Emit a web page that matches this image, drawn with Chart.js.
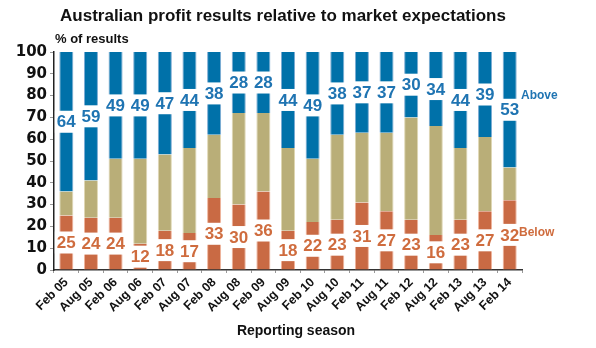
<!DOCTYPE html>
<html>
<head>
<meta charset="utf-8">
<script src="https://cdn.jsdelivr.net/npm/chart.js@4/dist/chart.umd.min.js"></script>
<style>
  html, body { margin: 0; padding: 0; background: #fff; }
  #wrap { width: 596px; height: 348px; position: relative; }
</style>
</head>
<body>
<div id="wrap"><canvas id="chart"></canvas></div>
<script>
// Reporting seasons
const seasons = ['Feb 05','Aug 05','Feb 06','Aug 06','Feb 07','Aug 07','Feb 08','Aug 08','Feb 09','Aug 09',
                 'Feb 10','Aug 10','Feb 11','Aug 11','Feb 12','Aug 12','Feb 13','Aug 13','Feb 14'];
// Share of results (%) below, in line with and above expectations
const below  = [25,24,24,12,18,17,33,30,36,18,22,23,31,27,23,16,23,27,32];
const inLine = [11,17,27,39,35,39,29,42,36,38,29,39,32,36,47,50,33,34,15];
const above  = [64,59,49,49,47,44,38,28,28,44,49,38,37,37,30,34,44,39,53];
// Y axis range
const yMin = 0, yMax = 100, yStep = 10;

const BLUE = '#0071a9', KHAKI = '#b9ae78', ORANGE = '#c96a44';
const BLUE_TXT = '#1f74b2', ORANGE_TXT = '#cf6c3e';
const SANS = '"Liberation Sans", Arial, sans-serif';

// Segment value labels with a white box punched through the bar
const valueLabels = {
  id: 'valueLabels',
  afterDatasetsDraw(chart) {
    const ctx = chart.ctx;
    ctx.save();
    ctx.font = 'bold 17px ' + SANS;
    ctx.textAlign = 'center';
    ctx.textBaseline = 'middle';
    [[0, ORANGE_TXT], [2, BLUE_TXT]].forEach(([di, color]) => {
      const meta = chart.getDatasetMeta(di);
      const data = chart.data.datasets[di].data;
      meta.data.forEach((bar, i) => {
        const p = bar.getProps(['x', 'y', 'base'], true);
        const cy = (p.y + p.base) / 2;
        const txt = String(data[i]);
        const w = ctx.measureText(txt).width;
        ctx.fillStyle = '#fff';
        ctx.fillRect(p.x - w / 2 - 2, cy - 11, w + 4, 22);
        ctx.fillStyle = color;
        ctx.fillText(txt, p.x, cy + 1);
      });
    });
    ctx.restore();
  }
};

// Title, axis captions and series names
const captions = {
  id: 'captions',
  afterDraw(chart) {
    const ctx = chart.ctx;
    const area = chart.chartArea;
    ctx.save();
    ctx.fillStyle = '#111';
    ctx.textBaseline = 'alphabetic';
    ctx.textAlign = 'center';
    ctx.font = 'bold 17px ' + SANS;
    ctx.fillText('Australian profit results relative to market expectations', 283, 21);
    ctx.textAlign = 'left';
    ctx.font = 'bold 13px ' + SANS;
    ctx.fillText('% of results', 55, 43);
    ctx.textAlign = 'center';
    ctx.font = 'bold 14px ' + SANS;
    ctx.fillText('Reporting season', 296, 335);

    ctx.textAlign = 'left';
    ctx.textBaseline = 'middle';
    ctx.font = 'bold 12px ' + SANS;
    ctx.fillStyle = BLUE_TXT;
    ctx.fillText('Above', area.right - 1, chart.scales.y.getPixelForValue(80));
    ctx.fillStyle = ORANGE_TXT;
    ctx.fillText('Below', area.right - 3, chart.scales.y.getPixelForValue(17));
    ctx.restore();
  }
};

const mk = (label, data, bg, edge) => ({
  label, data, backgroundColor: bg,
  borderColor: edge, borderWidth: {left: 1, right: 1, top: 0, bottom: 0},
  borderSkipped: false,
  barPercentage: 0.57, categoryPercentage: 1
});

new Chart(document.getElementById('chart'), {
  type: 'bar',
  data: {
    labels: seasons,
    datasets: [
      mk('Below', below, ORANGE, 'rgba(236,160,130,0.8)'),
      mk('In line', inLine, KHAKI, 'rgba(215,205,160,0.8)'),
      mk('Above', above, BLUE, 'rgba(90,150,200,0.8)')
    ]
  },
  options: {
    responsive: true,
    maintainAspectRatio: false,
    animation: false,
    layout: { padding: { left: 4, right: 74, top: 52, bottom: 0 } },
    plugins: { legend: { display: false }, tooltip: { enabled: false }, title: { display: false } },
    scales: {
      x: {
        stacked: true,
        grid: { drawOnChartArea: false, drawTicks: true, tickLength: 3, color: '#999', offset: true },
        border: { color: '#333', width: 1.5 },
        ticks: {
          autoSkip: false, minRotation: 45, maxRotation: 45, padding: 2,
          color: '#111', font: { family: SANS, weight: 'bold', size: 12.5 }
        },
        afterFit(scale) { scale.height = 78; }
      },
      y: {
        stacked: true,
        min: yMin, max: yMax,
        grid: { drawOnChartArea: false, drawTicks: true, tickLength: 4, color: '#999' },
        border: { color: '#222', width: 1.5 },
        ticks: {
          stepSize: yStep, padding: 3, color: '#111',
          font: { family: '"DejaVu Sans", Verdana, sans-serif', weight: 'bold', size: 15 }
        },
        afterFit(scale) { scale.width = 50; }
      }
    }
  },
  plugins: [valueLabels, captions]
});
</script>
</body>
</html>
